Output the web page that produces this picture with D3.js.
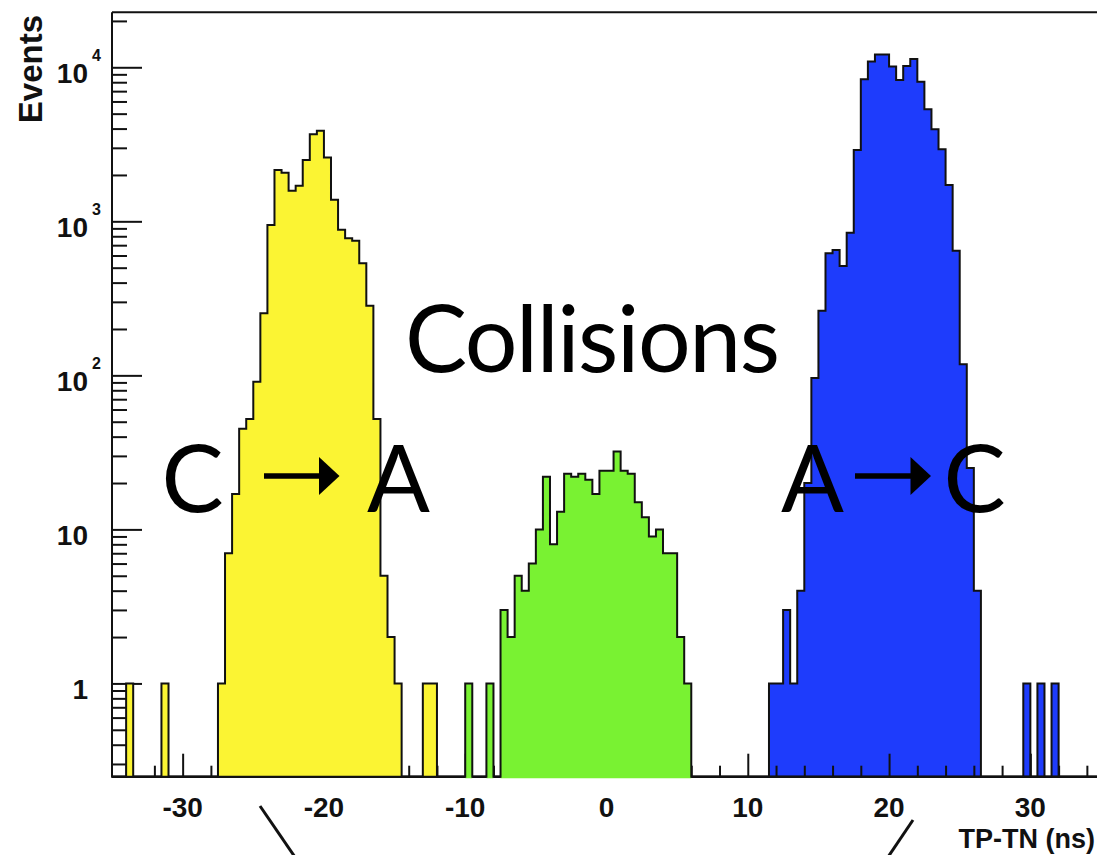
<!DOCTYPE html>
<html lang="en">
<head>
	<meta charset="UTF-8">
	<title>TP-TN timing</title>
	<script src="https://d3js.org/d3.v7.min.js"></script>
	<style>
		body { margin: 0; background: #fff; }
		svg { display: block; }
		.lbl { font-family: "Liberation Sans", Arial, sans-serif; font-weight: bold; fill: #111; }
		.note { font-family: Lato, "Open Sans", sans-serif; fill: #000; }
		.tick line { stroke: #111; stroke-width: 2; }
		.domain { display: none; }
	</style>
</head>
<body>
	<svg id="svg"></svg>
	<script>
		// bins are 0.5 ns wide, each entry is [lower edge, events]
		var binWidth = 0.5;
		var yellowBins = [[-34,1],[-31.5,1],
			[-27.5,1],[-27,7],[-26.5,17],[-26,45],[-25.5,52],[-25,91],[-24.5,253],[-24,946],
			[-23.5,2150],[-23,2070],[-22.5,1580],[-22,1700],[-21.5,2500],[-21,3670],[-20.5,3870],
			[-20,2600],[-19.5,1380],[-19,880],[-18.5,776],[-18,748],[-17.5,534],[-17,283],
			[-16.5,52],[-16,5],[-15.5,2],[-15,1],
			[-13,1],[-12.5,1]];
		var greenBins = [[-10,1],[-8.5,1],
			[-7.5,3],[-7,2],[-6.5,5],[-6,4],[-5.5,6],[-5,10],[-4.5,22],[-4,8],[-3.5,13],[-3,23],
			[-2.5,22],[-2,23],[-1.5,21],[-1,17],[-0.5,24],[0,24],[0.5,32],[1,24],[1.5,23],[2,15],
			[2.5,12],[3,9],[3.5,10],[4,7],[4.5,7],[5,2],[5.5,1]];
		var blueBins = [[11.5,1],[12,1],[12.5,3],[13,1],[13.5,4],[14,20],[14.5,96],[15,263],
			[15.5,620],[16,651],[16.5,513],[17,844],[17.5,2900],[18,8360],[18.5,10900],[19,12100],
			[19.5,12100],[20,10100],[20.5,8270],[21,10200],[21.5,11300],[22,8060],[22.5,5340],
			[23,3960],[23.5,2940],[24,1720],[24.5,644],[25,118],[25.5,25],[26,4],
			[29.5,1],[30.5,1],[31.5,1]];

		var xMajor = [-30,-20,-10,0,10,20,30];
		var yMajor = [1,10,100,1000,10000];
		var yBaseText = ["1","10","10","10","10"];
		var yExpText = ["","","2","3","4"];
		var xTitle = "TP-TN (ns)", yTitle = "Events";

		window.onload = function() {
			var w = 1097, h = 855,
				svg = d3.select("#svg").attr("width", w).attr("height", h);

			var x = d3.scaleLinear().domain([-35, 35]).range([112, 1101]);
			var y = d3.scaleLog().domain([0.248, 22750]).range([776.7, 12.3]);
			var base = y.range()[0], top = y.range()[1];

			function fullBins(list) {
				var m = new Map(list.map(function(d) { return [d[0], d[1]]; }));
				var out = [];
				for (var i = 0; i < 140; i++) {
					var lo = -35 + i * binWidth;
					out.push({lo: lo, n: m.get(lo) || 0});
				}
				out.push({lo: 35, n: out[out.length - 1].n});
				return out;
			}

			function drawHist(list, color, fillBase) {
				var pts = fullBins(list);
				var area = d3.area().curve(d3.curveStepAfter)
					.x(function(d) { return x(d.lo); })
					.y0(fillBase)
					.y1(function(d) { return d.n > 0 ? y(d.n) : fillBase; });
				var line = d3.line().curve(d3.curveStepAfter)
					.x(function(d) { return x(d.lo); })
					.y(function(d) { return d.n > 0 ? y(d.n) : base; });
				svg.append("path").attr("d", area(pts)).attr("fill", color);
				svg.append("path").attr("d", line(pts))
					.attr("fill", "none").attr("stroke", "#111").attr("stroke-width", 2);
			}

			// blue first, then axis, yellow and green cover the ticks
			drawHist(blueBins, "#1e3cfc", base);

			var xMinor = d3.range(-34, 35, 2).filter(function(v) { return v % 10 !== 0; });
			var yMinor = [];
			[-1,0,1,2,3,4].forEach(function(k) {
				for (var m = 2; m < 10; m++) {
					var v = m * Math.pow(10, k);
					if (v > 0.248 && v < 22750) yMinor.push(v);
				}
			});

			svg.append("g").attr("transform", "translate(0," + base + ")")
				.call(d3.axisBottom(x).tickValues(xMajor).tickSize(-23).tickFormat(""));
			svg.append("g").attr("transform", "translate(0," + base + ")")
				.call(d3.axisBottom(x).tickValues(xMinor).tickSize(-11).tickFormat(""));
			svg.append("g").attr("transform", "translate(" + x(-35) + ",0)")
				.call(d3.axisLeft(y).tickValues(yMajor).tickSize(-30).tickFormat(""));
			svg.append("g").attr("transform", "translate(" + x(-35) + ",0)")
				.call(d3.axisLeft(y).tickValues(yMinor).tickSize(-15).tickFormat(""));

			var frame = svg.append("g").attr("stroke", "#111").attr("stroke-width", 2);
			frame.append("line").attr("x1", x(-35)).attr("x2", x(-35)).attr("y1", top).attr("y2", base + 1);
			frame.append("line").attr("x1", x(-35)).attr("x2", x(35)).attr("y1", top).attr("y2", top);
			frame.append("line").attr("x1", x(-35)).attr("x2", x(35)).attr("y1", base).attr("y2", base);
			frame.append("line").attr("x1", x(35)).attr("x2", x(35)).attr("y1", top).attr("y2", base);

			drawHist(yellowBins, "#fbf433", base);
			drawHist(greenBins, "#79f232", base + 1.5);

			// tick labels
			svg.selectAll("text.xl").data(xMajor).enter().append("text")
				.attr("class", "lbl xl")
				.attr("x", function(d) { return x(d); })
				.attr("y", 817)
				.attr("text-anchor", "middle")
				.style("font-size", "28px")
				.text(function(d) { return d; });

			yMajor.forEach(function(v, i) {
				svg.append("text").attr("class", "lbl")
					.attr("x", 88).attr("y", y(v) + 15.5)
					.attr("text-anchor", "end")
					.style("font-size", "28px")
					.text(yBaseText[i]);
				if (yExpText[i]) {
					svg.append("text").attr("class", "lbl")
						.attr("x", 92).attr("y", y(v) - 6)
						.style("font-size", "16px")
						.text(yExpText[i]);
				}
			});

			svg.append("text").attr("class", "lbl")
				.attr("x", 1095).attr("y", 848)
				.attr("text-anchor", "end")
				.style("font-size", "27px")
				.text(xTitle);
			svg.append("text").attr("class", "lbl")
				.attr("transform", "translate(42,15) rotate(-90)")
				.attr("text-anchor", "end")
				.style("font-size", "33px")
				.text(yTitle);

			// slide annotations
			svg.append("text").attr("class", "note")
				.attr("x", 405).attr("y", 372)
				.attr("textLength", 375).attr("lengthAdjust", "spacing")
				.style("font-size", "93px")
				.text("Collisions");

			var letters = [["C", 192.5], ["A", 398.5], ["A", 812.5], ["C", 974.5]];
			letters.forEach(function(d) {
				svg.append("text").attr("class", "note")
					.attr("x", d[1]).attr("y", 512)
					.attr("text-anchor", "middle")
					.style("font-size", "93px")
					.text(d[0]);
			});

			[[264, 339.5], [855, 931]].forEach(function(a) {
				var head = a[1] - 20.5;
				svg.append("line").attr("x1", a[0]).attr("x2", head + 1)
					.attr("y1", 476).attr("y2", 476)
					.attr("stroke", "#000").attr("stroke-width", 5.5);
				svg.append("path")
					.attr("d", "M" + head + ",457L" + a[1] + ",476L" + head + ",495Z")
					.attr("fill", "#000");
			});

			svg.append("line").attr("x1", 260).attr("y1", 806).attr("x2", 297).attr("y2", 860)
				.attr("stroke", "#111").attr("stroke-width", 3);
			svg.append("line").attr("x1", 913).attr("y1", 820).attr("x2", 886).attr("y2", 860)
				.attr("stroke", "#111").attr("stroke-width", 3);
		};
	</script>
</body>
</html>
